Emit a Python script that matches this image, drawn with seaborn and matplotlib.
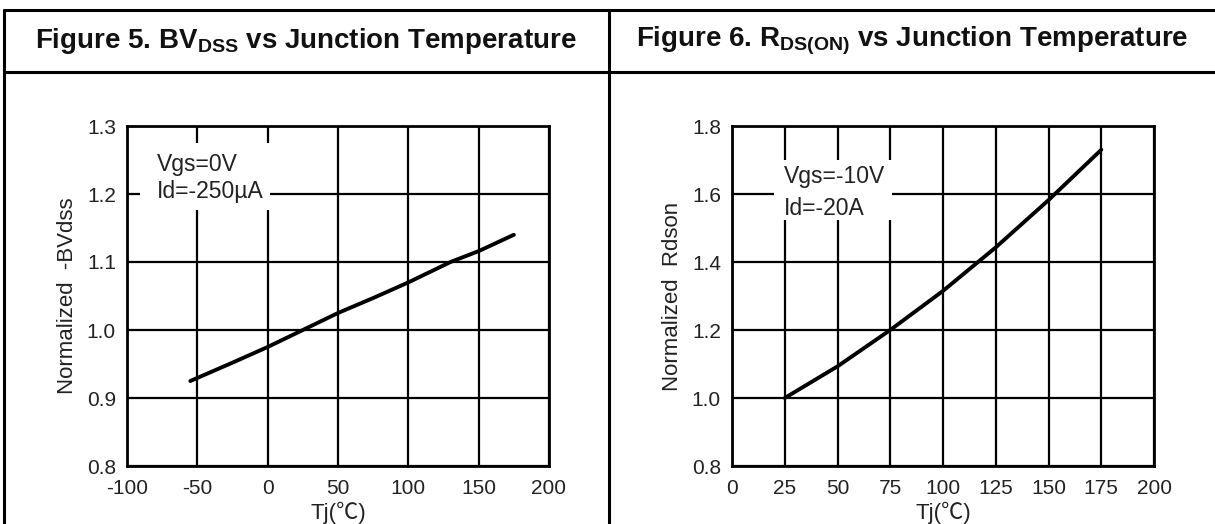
import matplotlib
matplotlib.use("Agg")
import matplotlib.pyplot as plt
from matplotlib.lines import Line2D
from matplotlib.patches import Rectangle
import seaborn as sns
import pandas as pd

# ---- data ----
bv_temp = [-55, -25, 0, 25, 50, 75, 100, 130, 150, 175]
bv_norm = [0.925, 0.952, 0.975, 1.000, 1.025, 1.047, 1.070, 1.100, 1.116, 1.140]

rds_temp = [25, 50, 75, 100, 125, 150, 175]
rds_norm = [1.000, 1.093, 1.200, 1.315, 1.443, 1.582, 1.730]

bv_xticks = [-100, -50, 0, 50, 100, 150, 200]
bv_yticks = [0.8, 0.9, 1.0, 1.1, 1.2, 1.3]
rds_xticks = [0, 25, 50, 75, 100, 125, 150, 175, 200]
rds_yticks = [0.8, 1.0, 1.2, 1.4, 1.6, 1.8]

titles = [r"Figure 5. BV$_{\mathbf{DSS}}$ vs Junction Temperature",
          r"Figure 6. R$_{\mathbf{DS(ON)}}$ vs Junction Temperature"]
ylabels = ["Normalized  -BVdss", "Normalized  Rdson"]
xlabel = "Tj(\u2103)"
notes = [["Vgs=0V", "Id=-250\u00b5A"], ["Vgs=-10V", "Id=-20A"]]

# ---- style ----
sns.set_theme(style="white")
plt.rcParams["font.family"] = ["Liberation Sans", "Noto Sans CJK SC", "DejaVu Sans"]
plt.rcParams["mathtext.fontset"] = "custom"
plt.rcParams["mathtext.rm"] = "Liberation Sans"
plt.rcParams["mathtext.bf"] = "Liberation Sans:bold"

W, H = 1215, 524
fig = plt.figure(figsize=(W / 100, H / 100), dpi=100)
fig.patch.set_facecolor("white")

def fx(px):
    return px / W

def fy(py):
    return 1 - py / H

# table borders
bw = 2.2
fig.add_artist(Line2D([fx(4), 1], [fy(10), fy(10)], color="black", lw=bw))
fig.add_artist(Line2D([fx(4), 1], [fy(72), fy(72)], color="black", lw=bw))
fig.add_artist(Line2D([fx(4), fx(4)], [0, fy(10)], color="black", lw=bw))
fig.add_artist(Line2D([fx(609), fx(609)], [0, fy(10)], color="black", lw=bw))

fig.text(fx(306), fy(41), titles[0], ha="center", va="center",
         fontsize=20, fontweight="bold", color="#111111")
fig.text(fx(912), fy(41), titles[1], ha="center", va="center",
         fontsize=20, fontweight="bold", color="#111111")

ax_top, ax_bot = 126, 466
ax1 = fig.add_axes([fx(127), fy(ax_bot), (549 - 127) / W, (ax_bot - ax_top) / H])
ax2 = fig.add_axes([fx(732), fy(ax_bot), (1154 - 732) / W, (ax_bot - ax_top) / H])

df1 = pd.DataFrame({"T": bv_temp, "V": bv_norm})
df2 = pd.DataFrame({"T": rds_temp, "V": rds_norm})

sns.lineplot(data=df1, x="T", y="V", ax=ax1, color="black", lw=2.8,
             zorder=5, solid_capstyle="round")
sns.lineplot(data=df2, x="T", y="V", ax=ax2, color="black", lw=2.8,
             zorder=5, solid_capstyle="round")

configs = [
    (ax1, bv_xticks, bv_yticks, ylabels[0]),
    (ax2, rds_xticks, rds_yticks, ylabels[1]),
]
for ax, xt, yt, yl in configs:
    ax.set_xlim(xt[0], xt[-1])
    ax.set_ylim(yt[0], yt[-1])
    ax.set_xticks(xt)
    ax.set_yticks(yt)
    ax.set_xticklabels([str(v) for v in xt])
    ax.set_yticklabels([f"{v:.1f}" for v in yt])
    ax.grid(True, color="black", lw=1.6)
    ax.set_axisbelow(True)
    for s in ax.spines.values():
        s.set_color("black")
        s.set_linewidth(2.0)
        s.set_zorder(6)
    ax.tick_params(axis="both", length=0, labelsize=15, colors="#222222")
    ax.tick_params(axis="x", pad=9)
    ax.tick_params(axis="y", pad=8)
    ax.set_xlabel(xlabel, fontsize=16, labelpad=3, color="#222222")
    ax.set_ylabel(yl, fontsize=16, labelpad=6, color="#222222")
    ax.set_facecolor("white")

# annotation boxes (white masks over grid)
ax1.add_patch(Rectangle((-90.8, 1.176), 92.4, 0.099, facecolor="white",
                        edgecolor="none", zorder=3))
ax1.text(-78.7, 1.243, notes[0][0], fontsize=16.5, va="center", ha="left",
         zorder=4, color="#222222")
ax1.text(-78.7, 1.203, notes[0][1], fontsize=16.5, va="center", ha="left",
         zorder=4, color="#222222")

ax2.add_patch(Rectangle((19.9, 1.524), 55.7, 0.176, facecolor="white",
                        edgecolor="none", zorder=3))
ax2.text(24.7, 1.651, notes[1][0], fontsize=16.5, va="center", ha="left",
         zorder=4, color="#222222")
ax2.text(24.7, 1.556, notes[1][1], fontsize=16.5, va="center", ha="left",
         zorder=4, color="#222222")

fig.savefig("out.png", dpi=100, facecolor="white")
